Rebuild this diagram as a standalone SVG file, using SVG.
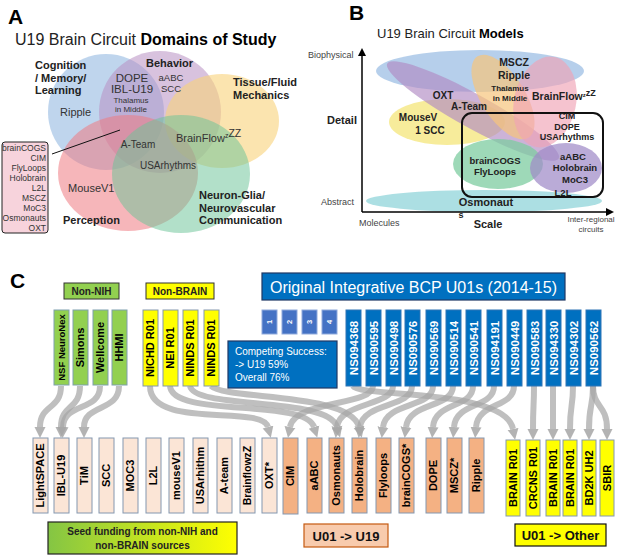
<svg xmlns="http://www.w3.org/2000/svg" width="617" height="556" viewBox="0 0 617 556">
<style>
text{font-family:"Liberation Sans",Arial,sans-serif}
.big{font-size:21px;font-weight:bold;fill:#000}
.lab{font-size:11px;fill:#333}
.lbb{font-size:11px;font-weight:bold;fill:#222}
.leg{font-size:8.5px;fill:#333;text-anchor:end}
.bl{font-size:10px;font-weight:bold;fill:#222;text-anchor:middle}
.ax{font-size:9px;fill:#444}
.vt{font-weight:bold;text-anchor:middle}
.g{fill:#92d050;stroke:#7f9fb0;stroke-width:1}
.y{fill:#ffff00;stroke:#8497b0;stroke-width:1}
.b{fill:#0070c0;stroke:#2e75b6;stroke-width:1}
.p{fill:#fbe5d6;stroke:#8497b0;stroke-width:1}
.o{fill:#f4b183;stroke:#8497b0;stroke-width:1}
.sq{fill:#4472c4;stroke:#8faadc;stroke-width:1}
.wt{fill:#fff}
.conn path{fill:none;stroke:#a6a6a6;stroke-opacity:.72;stroke-width:6;marker-end:url(#ga)}
</style>
<defs>
<marker id="ga" viewBox="0 0 10 10" refX="0" refY="5" markerUnits="userSpaceOnUse" markerWidth="11" markerHeight="13" orient="auto">
<path d="M0,0 L10,5 L0,10 z" fill="#a6a6a6" fill-opacity=".85"/>
</marker>
<marker id="ka" viewBox="0 0 10 10" refX="0" refY="5" markerUnits="userSpaceOnUse" markerWidth="8" markerHeight="8" orient="auto">
<path d="M0,0 L10,5 L0,10 z" fill="#000"/>
</marker>
<linearGradient id="seed" x1="0" y1="0" x2="1" y2="0">
<stop offset="0" stop-color="#84c544"/>
<stop offset="1" stop-color="#ffff00"/>
</linearGradient>
</defs>

<!-- Panel A -->
<g id="panelA">
<text class="big" x="8" y="24">A</text>
<text x="15" y="45" style="font-size:16px" fill="#222">U19 Brain Circuit <tspan font-weight="bold" fill="#000">Domains of Study</tspan></text>
<g id="venn">
<circle cx="106" cy="112" r="58" fill="#9dbfe3" fill-opacity=".65"/>
<circle cx="160" cy="112" r="61" fill="#b890c2" fill-opacity=".55"/>
<ellipse cx="222" cy="121" rx="57" ry="47" fill="#f8d27a" fill-opacity=".6"/>
<ellipse cx="128" cy="173" rx="70" ry="58" fill="#ee7a82" fill-opacity=".55"/>
<ellipse cx="181" cy="174" rx="69" ry="59" fill="#6cc497" fill-opacity=".52"/>
</g>
<text class="lbb" x="35" y="69">Cognition</text>
<text class="lbb" x="35" y="82">/ Memory/</text>
<text class="lbb" x="35" y="94">Learning</text>
<text class="lab" x="60" y="116">Ripple</text>
<text class="lbb" x="146" y="67">Behavior</text>
<text class="lab" x="132" y="82" style="font-size:11.5px" text-anchor="middle">DOPE</text>
<text class="lab" x="132" y="93" style="font-size:11.5px" text-anchor="middle">IBL-U19</text>
<text class="lab" x="131" y="103" style="font-size:8px" text-anchor="middle">Thalamus</text>
<text class="lab" x="131" y="112" style="font-size:8px" text-anchor="middle">in Middle</text>
<text class="lab" x="171" y="81" style="font-size:9.5px" text-anchor="middle">aABC</text>
<text class="lab" x="171" y="92" style="font-size:9.5px" text-anchor="middle">SCC</text>
<text class="lbb" x="233" y="86">Tissue/Fluid</text>
<text class="lbb" x="233" y="99">Mechanics</text>
<text class="lab" x="176" y="142">BrainFlow<tspan font-size="7" dy="-4">z</tspan><tspan font-size="10.5" dy="-1">ZZ</tspan></text>
<text class="lab" x="138" y="148" style="font-size:10px" text-anchor="middle">A-Team</text>
<text class="lab" x="168" y="169" style="font-size:10px" text-anchor="middle">USArhythms</text>
<text class="lab" x="68" y="192">MouseV1</text>
<text class="lbb" x="63" y="224">Perception</text>
<text class="lbb" x="199" y="199">Neuron-Glia/</text>
<text class="lbb" x="199" y="212">Neurovascular</text>
<text class="lbb" x="199" y="224">Communication</text>
<line x1="52" y1="154" x2="120" y2="130" stroke="#111" stroke-width="1"/>
<g id="legendA">
<rect x="2" y="142" width="46" height="91" rx="3" fill="#f7d3dc" stroke="#222" stroke-width="1"/>
<text class="leg" x="46" y="151">brainCOGS</text>
<text class="leg" x="46" y="161">CIM</text>
<text class="leg" x="46" y="171">FlyLoops</text>
<text class="leg" x="46" y="181">Holobrain</text>
<text class="leg" x="46" y="191">L2L</text>
<text class="leg" x="46" y="201">MSCZ</text>
<text class="leg" x="46" y="211">MoC3</text>
<text class="leg" x="46" y="221">Osmonauts</text>
<text class="leg" x="46" y="231">OXT</text>
</g>
</g>

<!-- Panel B -->
<g id="panelB">
<text class="big" x="349" y="20">B</text>
<text x="377" y="38" style="font-size:13px" fill="#222">U19 Brain Circuit <tspan font-weight="bold" fill="#000">Models</tspan></text>
<ellipse cx="480" cy="71" rx="104" ry="21" fill="#a9c7e8" fill-opacity=".85"/>
<ellipse cx="447" cy="122" rx="58" ry="23" fill="#f6e98a" fill-opacity=".85"/>
<ellipse cx="473" cy="111" rx="98" ry="17" transform="rotate(29 473 111)" fill="#b08bc3" fill-opacity=".65"/>
<ellipse cx="503" cy="97" rx="48" ry="22" transform="rotate(58 503 97)" fill="#f6c47c" fill-opacity=".7"/>
<ellipse cx="545" cy="102" rx="31" ry="46" transform="rotate(12 545 102)" fill="#f0a3b6" fill-opacity=".65"/>
<ellipse cx="498" cy="164" rx="45" ry="25" fill="#7dcca0" fill-opacity=".75"/>
<ellipse cx="566" cy="168" rx="36" ry="25" fill="#9f8ac8" fill-opacity=".72"/>
<ellipse cx="484" cy="201" rx="118" ry="11" fill="#9ed9de" fill-opacity=".85"/>
<rect x="462" y="113" width="141" height="84" rx="10" fill="none" stroke="#111" stroke-width="2"/>
<line x1="362" y1="212" x2="362" y2="56" stroke="#000" stroke-width="1.5" marker-end="url(#ka)"/>
<line x1="362" y1="212" x2="606" y2="212" stroke="#000" stroke-width="1.5" marker-end="url(#ka)"/>
<text class="ax" x="308" y="58">Biophysical</text>
<text class="lbb" x="327" y="124">Detail</text>
<text class="ax" x="321" y="205">Abstract</text>
<text class="ax" x="359" y="226">Molecules</text>
<text class="lbb" x="488" y="228" text-anchor="middle">Scale</text>
<text class="ax" x="591" y="222" style="font-size:8px" text-anchor="middle">Inter-regional</text>
<text class="ax" x="591" y="232" style="font-size:8px" text-anchor="middle">circuits</text>
<text class="bl" x="514" y="66" style="font-size:10.5px">MSCZ</text>
<text class="bl" x="514" y="79" style="font-size:10.5px">Ripple</text>
<text class="bl" x="510" y="91" style="font-size:8px">Thalamus</text>
<text class="bl" x="510" y="101" style="font-size:8px">in Middle</text>
<text class="bl" x="532" y="100" style="font-size:10.5px;text-anchor:start">BrainFlow<tspan font-size="6" dy="-3">z</tspan><tspan font-size="9" dy="-1">zZ</tspan></text>
<text class="bl" x="443" y="99">OXT</text>
<text class="bl" x="469" y="110">A-Team</text>
<text class="bl" x="418" y="121">MouseV</text>
<text class="bl" x="430" y="134">1 SCC</text>
<text class="bl" x="567" y="119" style="font-size:9px">CIM</text>
<text class="bl" x="567" y="129.5" style="font-size:9px">DOPE</text>
<text class="bl" x="567" y="140" style="font-size:9px">USArhythms</text>
<text class="bl" x="495" y="164" style="font-size:9.5px">brainCOGS</text>
<text class="bl" x="495" y="175" style="font-size:9.5px">FlyLoops</text>
<text class="bl" x="573" y="160" style="font-size:9.5px">aABC</text>
<text class="bl" x="575" y="171" style="font-size:9.5px">Holobrain</text>
<text class="bl" x="575" y="183" style="font-size:9.5px">MoC3</text>
<text class="bl" x="563" y="195.5" style="font-size:9.5px">L2L</text>
<text class="bl" x="486" y="206" style="font-size:11px">Osmonaut</text>
<text class="bl" x="461" y="218" style="font-size:9px">s</text>
</g>

<!-- Panel C -->
<g id="panelC">
<text class="big" x="10" y="288">C</text>

<g id="connectors" class="conn">
<path d="M61,386 C61,410 40,404 40,427"/>
<path d="M80,386 C80,410 61,404 61,427"/>
<path d="M100,386 C100,412 64,402 63,427"/>
<path d="M119,386 C119,412 84,404 84,427"/>
<path d="M150,386 C150,430 262,404 268,427"/>
<path d="M170,386 C172,418 305,398 314,427"/>
<path d="M190,386 C195,410 328,396 337,427"/>
<path d="M211,386 C225,400 350,392 359,427"/>
<path d="M353,386 C360,398 505,388 513,429"/>
<path d="M373,386 C373,406 295,400 290,427"/>
<path d="M393,386 C393,406 340,402 337,427"/>
<path d="M412,386 C412,408 363,402 360,427"/>
<path d="M433,386 C433,408 386,402 383,427"/>
<path d="M453,386 C453,408 409,402 406,427"/>
<path d="M473,386 C473,408 435,402 433,427"/>
<path d="M494,386 C494,408 456,402 454,427"/>
<path d="M514,386 C514,408 478,402 476,427"/>
<path d="M534,386 C534,408 533,404 533,429"/>
<path d="M553,386 C553,408 553,404 553,429"/>
<path d="M573,386 C573,408 570,404 570,429"/>
<path d="M593,386 C593,408 589,404 589,429"/>
<path d="M593,386 C593,408 607,404 607,429"/>
</g>

<g id="non-nih">
<rect x="64" y="283" width="55" height="16" class="g" style="stroke:#333"/>
<text class="bl" x="91.5" y="295">Non-NIH</text>
</g>
<g id="non-brain">
<rect x="146" y="283" width="68" height="16" class="y" style="stroke:#333"/>
<text class="bl" x="180" y="295">Non-BRAIN</text>
</g>
<g id="banner">
<rect x="262" y="273" width="303" height="27" fill="#0070c0" stroke="#1f3864" stroke-width="1.2"/>
<text x="413.5" y="293" style="font-size:16px" fill="#fff" text-anchor="middle">Original Integrative BCP U01s (2014-15)</text>
</g>

<g id="green-bars">
<rect class="g" x="54" y="310" width="15" height="75"/><text class="vt" font-size="9.5" transform="translate(61.5,347.5) rotate(-90)" dy=".36em">NSF NeuroNex</text>
<rect class="g" x="73" y="310" width="15" height="75"/><text class="vt" font-size="11" transform="translate(80.5,347.5) rotate(-90)" dy=".36em">Simons</text>
<rect class="g" x="93" y="310" width="15" height="75"/><text class="vt" font-size="11" transform="translate(100.5,347.5) rotate(-90)" dy=".36em">Wellcome</text>
<rect class="g" x="112" y="310" width="15" height="75"/><text class="vt" font-size="11" transform="translate(119.5,347.5) rotate(-90)" dy=".36em">HHMI</text>
</g>
<g id="yellow-bars-top">
<rect class="y" x="143" y="310" width="15" height="76"/><text class="vt" font-size="11" transform="translate(150.5,348) rotate(-90)" dy=".36em">NICHD R01</text>
<rect class="y" x="163" y="310" width="15" height="76"/><text class="vt" font-size="11" transform="translate(170.5,348) rotate(-90)" dy=".36em">NEI R01</text>
<rect class="y" x="183" y="310" width="15" height="76"/><text class="vt" font-size="11" transform="translate(190.5,348) rotate(-90)" dy=".36em">NINDS R01</text>
<rect class="y" x="204" y="310" width="15" height="76"/><text class="vt" font-size="11" transform="translate(211.5,348) rotate(-90)" dy=".36em">NINDS R01</text>
</g>
<g id="squares">
<rect class="sq" x="262" y="310" width="15" height="24"/><text class="vt wt" font-size="7.5" transform="translate(269.5,322) rotate(-90)" dy=".36em">1</text>
<rect class="sq" x="282" y="310" width="15" height="24"/><text class="vt wt" font-size="7.5" transform="translate(289.5,322) rotate(-90)" dy=".36em">2</text>
<rect class="sq" x="302" y="310" width="15" height="24"/><text class="vt wt" font-size="7.5" transform="translate(309.5,322) rotate(-90)" dy=".36em">3</text>
<rect class="sq" x="322" y="310" width="15" height="24"/><text class="vt wt" font-size="7.5" transform="translate(329.5,322) rotate(-90)" dy=".36em">4</text>
</g>
<g id="competing">
<rect x="228" y="341" width="109" height="47" fill="#0070c0" stroke="#1f3864" stroke-width="1.2"/>
<text x="235" y="355" font-size="10" fill="#fff">Competing Success:</text>
<text x="235" y="368" font-size="10" fill="#fff">-&gt; U19 59%</text>
<text x="235" y="381" font-size="10" fill="#fff">Overall 76%</text>
</g>
<g id="ns-bars">
<rect class="b" x="346" y="310" width="15" height="76"/><text class="vt wt" font-size="11.5" transform="translate(353.5,348) rotate(-90)" dy=".36em">NS094368</text>
<rect class="b" x="366" y="310" width="15" height="76"/><text class="vt wt" font-size="11.5" transform="translate(373.5,348) rotate(-90)" dy=".36em">NS090595</text>
<rect class="b" x="386" y="310" width="15" height="76"/><text class="vt wt" font-size="11.5" transform="translate(393.5,348) rotate(-90)" dy=".36em">NS090498</text>
<rect class="b" x="405" y="310" width="15" height="76"/><text class="vt wt" font-size="11.5" transform="translate(412.5,348) rotate(-90)" dy=".36em">NS090576</text>
<rect class="b" x="426" y="310" width="15" height="76"/><text class="vt wt" font-size="11.5" transform="translate(433.5,348) rotate(-90)" dy=".36em">NS090569</text>
<rect class="b" x="446" y="310" width="15" height="76"/><text class="vt wt" font-size="11.5" transform="translate(453.5,348) rotate(-90)" dy=".36em">NS090514</text>
<rect class="b" x="466" y="310" width="15" height="76"/><text class="vt wt" font-size="11.5" transform="translate(473.5,348) rotate(-90)" dy=".36em">NS090541</text>
<rect class="b" x="487" y="310" width="15" height="76"/><text class="vt wt" font-size="11.5" transform="translate(494.5,348) rotate(-90)" dy=".36em">NS094191</text>
<rect class="b" x="507" y="310" width="15" height="76"/><text class="vt wt" font-size="11.5" transform="translate(514.5,348) rotate(-90)" dy=".36em">NS090449</text>
<rect class="b" x="527" y="310" width="15" height="76"/><text class="vt wt" font-size="11.5" transform="translate(534.5,348) rotate(-90)" dy=".36em">NS090583</text>
<rect class="b" x="546" y="310" width="15" height="76"/><text class="vt wt" font-size="11.5" transform="translate(553.5,348) rotate(-90)" dy=".36em">NS094330</text>
<rect class="b" x="566" y="310" width="15" height="76"/><text class="vt wt" font-size="11.5" transform="translate(573.5,348) rotate(-90)" dy=".36em">NS094302</text>
<rect class="b" x="586" y="310" width="15" height="76"/><text class="vt wt" font-size="11.5" transform="translate(593.5,348) rotate(-90)" dy=".36em">NS090562</text>
</g>

<g id="seed-bars">
<rect class="p" x="33" y="438" width="15" height="75"/><text class="vt" font-size="11" transform="translate(40.5,475.5) rotate(-90)" dy=".36em">LightSPACE</text>
<rect class="p" x="54" y="438" width="15" height="75"/><text class="vt" font-size="11" transform="translate(61.5,475.5) rotate(-90)" dy=".36em">IBL-U19</text>
<rect class="p" x="77" y="438" width="15" height="75"/><text class="vt" font-size="11" transform="translate(84.5,475.5) rotate(-90)" dy=".36em">TiM</text>
<rect class="p" x="99" y="438" width="15" height="75"/><text class="vt" font-size="11" transform="translate(106.5,475.5) rotate(-90)" dy=".36em">SCC</text>
<rect class="p" x="123" y="438" width="15" height="75"/><text class="vt" font-size="11" transform="translate(130.5,475.5) rotate(-90)" dy=".36em">MOC3</text>
<rect class="p" x="146" y="438" width="15" height="75"/><text class="vt" font-size="11" transform="translate(153.5,475.5) rotate(-90)" dy=".36em">L2L</text>
<rect class="p" x="169" y="438" width="15" height="75"/><text class="vt" font-size="11" transform="translate(176.5,475.5) rotate(-90)" dy=".36em">mouseV1</text>
<rect class="p" x="193" y="438" width="15" height="75"/><text class="vt" font-size="11" transform="translate(200.5,475.5) rotate(-90)" dy=".36em">USArhithm</text>
<rect class="p" x="217" y="438" width="15" height="75"/><text class="vt" font-size="11" transform="translate(224.5,475.5) rotate(-90)" dy=".36em">A-team</text>
<rect class="p" x="240" y="438" width="15" height="75"/><text class="vt" font-size="10.5" transform="translate(247.5,475.5) rotate(-90)" dy=".36em">BrainflowzZ</text>
<rect class="p" x="262" y="438" width="15" height="75"/><text class="vt" font-size="11" transform="translate(269.5,475.5) rotate(-90)" dy=".36em">OXT*</text>
</g>
<g id="u19-bars">
<rect class="o" x="283" y="438" width="15" height="76"/><text class="vt" font-size="11" transform="translate(290.5,476) rotate(-90)" dy=".36em">CIM</text>
<rect class="o" x="307" y="438" width="15" height="75"/><text class="vt" font-size="11" transform="translate(314.5,475.5) rotate(-90)" dy=".36em">aABC</text>
<rect class="o" x="329" y="438" width="15" height="75"/><text class="vt" font-size="11" transform="translate(336.5,475.5) rotate(-90)" dy=".36em">Osmonauts</text>
<rect class="o" x="352" y="438" width="15" height="75"/><text class="vt" font-size="11" transform="translate(359.5,475.5) rotate(-90)" dy=".36em">Holobrain</text>
<rect class="o" x="376" y="438" width="15" height="75"/><text class="vt" font-size="11" transform="translate(383.5,475.5) rotate(-90)" dy=".36em">Flyloops</text>
<rect class="o" x="399" y="438" width="15" height="75"/><text class="vt" font-size="11" transform="translate(406.5,475.5) rotate(-90)" dy=".36em">brainCOGS*</text>
<rect class="o" x="426" y="438" width="15" height="75"/><text class="vt" font-size="11" transform="translate(433.5,475.5) rotate(-90)" dy=".36em">DOPE</text>
<rect class="o" x="447" y="438" width="15" height="75"/><text class="vt" font-size="11" transform="translate(454.5,475.5) rotate(-90)" dy=".36em">MSCZ*</text>
<rect class="o" x="469" y="438" width="15" height="75"/><text class="vt" font-size="11" transform="translate(476.5,475.5) rotate(-90)" dy=".36em">Ripple</text>
</g>
<g id="other-bars">
<rect class="y" x="506" y="440" width="14" height="76"/><text class="vt" font-size="11" transform="translate(513,478) rotate(-90)" dy=".36em">BRAIN R01</text>
<rect class="y" x="526" y="440" width="14" height="76"/><text class="vt" font-size="11" transform="translate(533,478) rotate(-90)" dy=".36em">CRCNS R01</text>
<rect class="y" x="546" y="440" width="14" height="76"/><text class="vt" font-size="11" transform="translate(553,478) rotate(-90)" dy=".36em">BRAIN R01</text>
<rect class="y" x="563" y="440" width="14" height="76"/><text class="vt" font-size="11" transform="translate(570,478) rotate(-90)" dy=".36em">BRAIN R01</text>
<rect class="y" x="582" y="440" width="14" height="76"/><text class="vt" font-size="11" transform="translate(589,478) rotate(-90)" dy=".36em">BD2K UH2</text>
<rect class="y" x="600" y="440" width="14" height="76"/><text class="vt" font-size="11" transform="translate(607,478) rotate(-90)" dy=".36em">SBIR</text>
</g>

<g id="seed-box">
<rect x="48" y="522" width="189" height="32" fill="url(#seed)" stroke="#222" stroke-width="1.2"/>
<text class="bl" x="142.5" y="535">Seed funding from non-NIH and</text>
<text class="bl" x="142.5" y="549">non-BRAIN sources</text>
</g>
<g id="u01-u19">
<rect x="304" y="524" width="84" height="23" fill="#f8cbad" stroke="#c55a11" stroke-width="1.2"/>
<text class="bl" x="346" y="540.5" style="font-size:13px;fill:#111">U01 -&gt; U19</text>
</g>
<g id="u01-other">
<rect x="515" y="524" width="91" height="22" fill="#ffff00" stroke="#111" stroke-width="1.2"/>
<text class="bl" x="560.5" y="540" style="font-size:13px;fill:#111">U01 -&gt; Other</text>
</g>
</g>
</svg>
